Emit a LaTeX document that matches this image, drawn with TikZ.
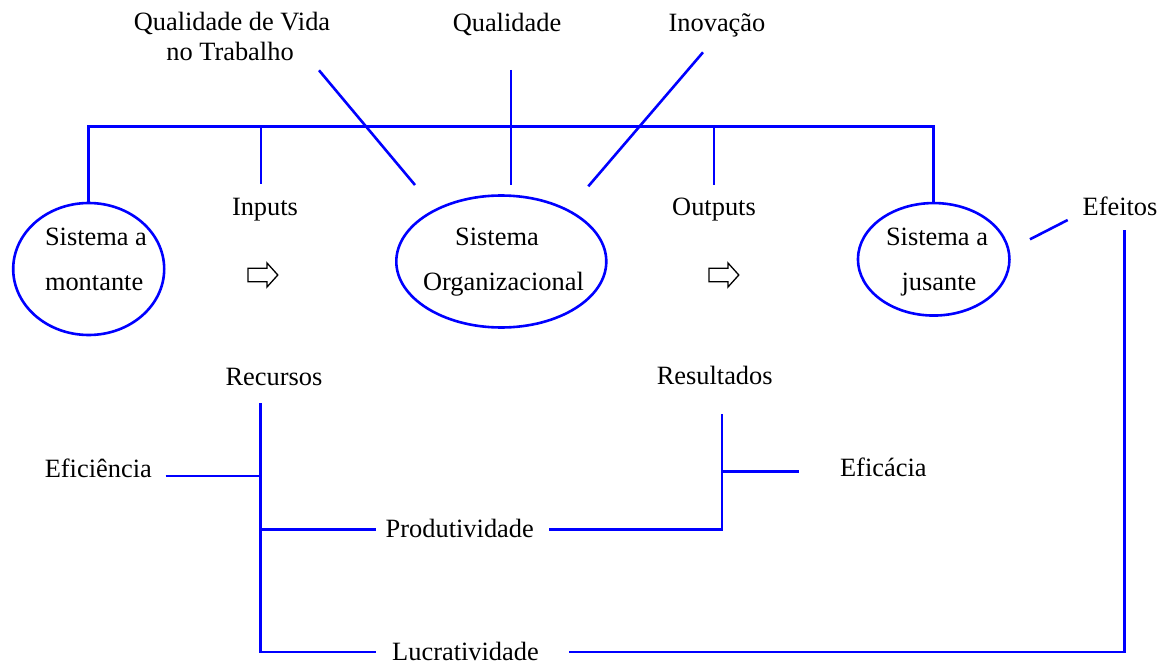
\documentclass[tikz,border=0pt]{standalone}
\usepackage{fontspec}
\setmainfont{Liberation Serif}
\usetikzlibrary{shapes.geometric}
\begin{document}
\begin{tikzpicture}[x=1pt,y=-1pt,
  every node/.style={inner sep=0pt, outer sep=0pt},
  lbl/.style={anchor=base, font=\fontsize{26.4}{30}\selectfont},
  sysbox/.style={draw=linkblue, line width=2.6pt, ellipse},
  link/.style={draw=linkblue, line width=2.6pt},
  flow/.style={draw=black, line width=1.3pt, line join=miter, fill=white}]
\definecolor{linkblue}{RGB}{0,0,255}
\useasboundingbox (0,0) rectangle (1162,666);

% --- systems ---
\node[sysbox, minimum width=151pt, minimum height=132pt] (montante) at (88.7,269) {};
\node[sysbox, minimum width=210pt, minimum height=132pt] (organiz) at (501.3,261.5) {};
\node[sysbox, minimum width=151.5pt, minimum height=112.5pt] (jusante) at (933.7,259.3) {};

\node[lbl, anchor=base west] (montA) at (45,245) {Sistema a};
\node[lbl, anchor=base west] (montB) at (45,290.7) {montante};
\node[lbl] (orgA) at (497,245) {Sistema};
\node[lbl] (orgB) at (503.5,290) {Organizacional};
\node[lbl] (jusA) at (937,245) {Sistema a};
\node[lbl] (jusB) at (939,290.7) {jusante};

% --- top labels ---
\node[lbl] (qvtA) at (232,31) {Qualidade de Vida};
\node[lbl] (qvtB) at (230,61) {no Trabalho};
\node[lbl] (qual) at (507,31.7) {Qualidade};
\node[lbl] (inov) at (717,31.7) {Inovação};
\node[lbl] (inputs) at (265,215) {Inputs};
\node[lbl] (outputs) at (714,215) {Outputs};
\node[lbl] (efeitos) at (1120,215) {Efeitos};

% --- lower labels ---
\node[lbl] (recursos) at (274,385) {Recursos};
\node[lbl] (resultados) at (714.7,384) {Resultados};
\node[lbl] (eficiencia) at (98.3,477) {Eficiência};
\node[lbl] (eficacia) at (883.3,476.7) {Eficácia};
\node[lbl] (produt) at (459.8,537) {Produtividade};
\node[lbl] (lucrat) at (465.5,660) {Lucratividade};

% --- flow arrows ---
\coordinate (inArr) at (248,275);
\coordinate (outArr) at (709,275);
\foreach \a in {inArr,outArr}
  \draw[flow] (\a) ++(0,-6.7) -- ++(19,0) -- ++(0,-5.3) -- ++(10.8,12) -- ++(-10.8,12)
    -- ++(0,-5.3) -- ++(-19,0) -- cycle;

% --- connector end points ---
\coordinate (bus) at (0,126.7);
\coordinate (inEnd) at (261,184);
\coordinate (outEnd) at (714,184.7);
\coordinate (qTop) at (511,70);
\coordinate (qBot) at (511,185);
\coordinate (qvtTop) at (319,70.3);
\coordinate (qvtBot) at (415,185);
\coordinate (inovTop) at (703,52.3);
\coordinate (inovBot) at (588.3,186.3);
\coordinate (efA) at (1030,239.3);
\coordinate (efB) at (1067.7,220);
\coordinate (efTop) at (1124.5,230);
\coordinate (recTop) at (260.5,403);
\coordinate (resTop) at (722,414.3);
\coordinate (eficR) at (165.7,475.8);
\coordinate (eficaL) at (799,471.7);
\coordinate (prodL) at (376,529.3);
\coordinate (prodR) at (549,529.3);
\coordinate (lucL) at (376,652);
\coordinate (lucR) at (569,652);

% --- connectors ---
\draw[link] (montante.north) -- (montante.north |- bus) -| (jusante.north);
\draw[link] (inEnd |- bus) -- (inEnd);
\draw[link] (outEnd |- bus) -- (outEnd);
\draw[link] (qTop) -- (qBot);
\draw[link] (qvtTop) -- (qvtBot);
\draw[link] (inovTop) -- (inovBot);
\draw[link] (efA) -- (efB);

\draw[link] (recTop) -- (recTop |- lucL) -- (lucL);
\draw[link] (eficR) -- (recTop |- eficR);
\draw[link] (recTop |- prodL) -- (prodL);
\draw[link] (prodR) -| (resTop);
\draw[link] (resTop |- eficaL) -- (eficaL);
\draw[link] (lucR) -| (efTop);
\end{tikzpicture}
\end{document}
